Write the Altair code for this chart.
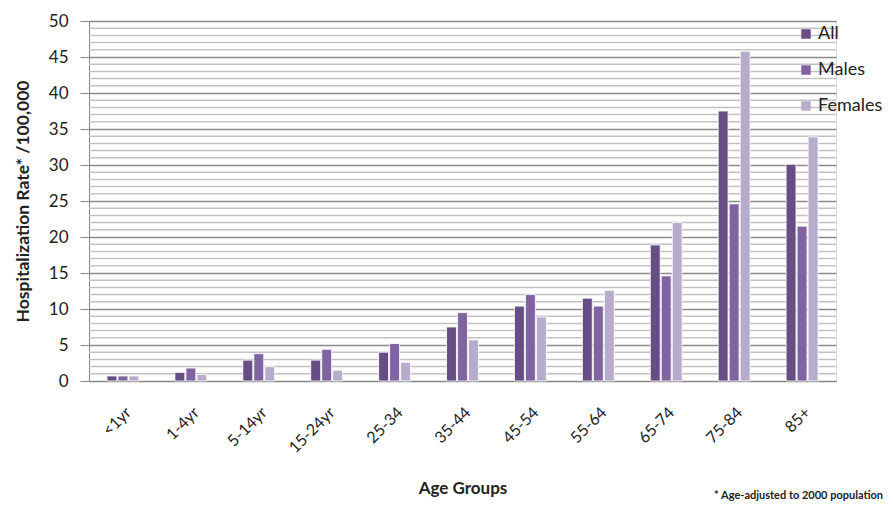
import altair as alt
import pandas as pd

age_groups = ["<1yr", "1-4yr", "5-14yr", "15-24yr", "25-34", "35-44",
              "45-54", "55-64", "65-74", "75-84", "85+"]
series_names = ["All", "Males", "Females"]
all_vals = [0.7, 1.2, 2.9, 2.9, 4.0, 7.5, 10.4, 11.5, 18.9, 37.5, 30.1]
male_vals = [0.7, 1.8, 3.8, 4.4, 5.2, 9.5, 12.0, 10.4, 14.6, 24.6, 21.5]
female_vals = [0.7, 0.9, 2.0, 1.5, 2.6, 5.7, 8.9, 12.6, 22.0, 45.8, 33.9]
major_ticks = [0, 5, 10, 15, 20, 25, 30, 35, 40, 45, 50]
minor_ticks = [v for v in range(0, 51) if v % 5 != 0]
colors = ["#664E85", "#8064A2", "#B8ACCC"]
footnote = "* Age-adjusted to 2000 population"

rows = []
for name, vals in zip(series_names, [all_vals, male_vals, female_vals]):
    for g, v in zip(age_groups, vals):
        rows.append({"Age": g, "Series": name, "Rate": v})
df = pd.DataFrame(rows)

FONT = "Lato"
yscale = alt.Scale(domain=[0, 50], nice=False)
yaxis = alt.Axis(title="Hospitalization Rate* /100,000",
                 values=major_ticks,
                 labelFontSize=17, labelFont=FONT, labelColor="#222",
                 labelPadding=12, tickSize=9, tickColor="#868686",
                 gridColor="#8a8a8a", gridWidth=1.5, gridOpacity=1,
                 domainColor="#868686",
                 titleFont=FONT, titleFontSize=17.5, titleFontWeight="bold",
                 titleColor="#222", titlePadding=16)

minor = alt.Chart(pd.DataFrame({"v": minor_ticks})).mark_rule(
    color="#c2c2c2", strokeWidth=1.5
).encode(y=alt.Y("v:Q", scale=yscale, axis=yaxis))

bars = alt.Chart(df).mark_bar(stroke="white", strokeWidth=0.8).encode(
    x=alt.X("Age:N", sort=age_groups,
            scale=alt.Scale(paddingInner=0.53, paddingOuter=0.265),
            axis=alt.Axis(title="Age Groups", labelAngle=-45, ticks=False,
                          labelFontSize=16, labelFont=FONT, labelColor="#222",
                          labelPadding=23, domainColor="#868686",
                          titleFont=FONT, titleFontSize=17, titleFontWeight="bold",
                          titleColor="#222", titlePadding=25, grid=False)),
    xOffset=alt.XOffset("Series:N", sort=series_names,
                        scale=alt.Scale(paddingInner=0.1)),
    y=alt.Y("Rate:Q", scale=yscale, axis=yaxis),
    color=alt.Color("Series:N", sort=series_names,
                    scale=alt.Scale(domain=series_names, range=colors),
                    legend=alt.Legend(title=None, orient="none", legendX=708, legendY=4,
                                      symbolType="square", symbolSize=90,
                                      symbolStrokeWidth=0, labelFont=FONT,
                                      labelFontSize=18, labelColor="#222",
                                      rowPadding=18, labelOffset=3, padding=0)),
)

note = alt.Chart(pd.DataFrame({"t": [footnote]})).mark_text(
    align="right", baseline="bottom", font=FONT, fontSize=11, fontWeight="bold",
    color="#222"
).encode(text="t:N", x=alt.value(794), y=alt.value(480))

chart = alt.layer(minor, bars, note).properties(
    width=747, height=360,
    autosize=alt.AutoSizeParams(type="none"),
    padding={"left": 81, "top": 13, "right": 49, "bottom": 121},
).configure_view(stroke=None).configure(background="white")

chart.save("out.html", embed_options={"renderer": "svg", "actions": False})
